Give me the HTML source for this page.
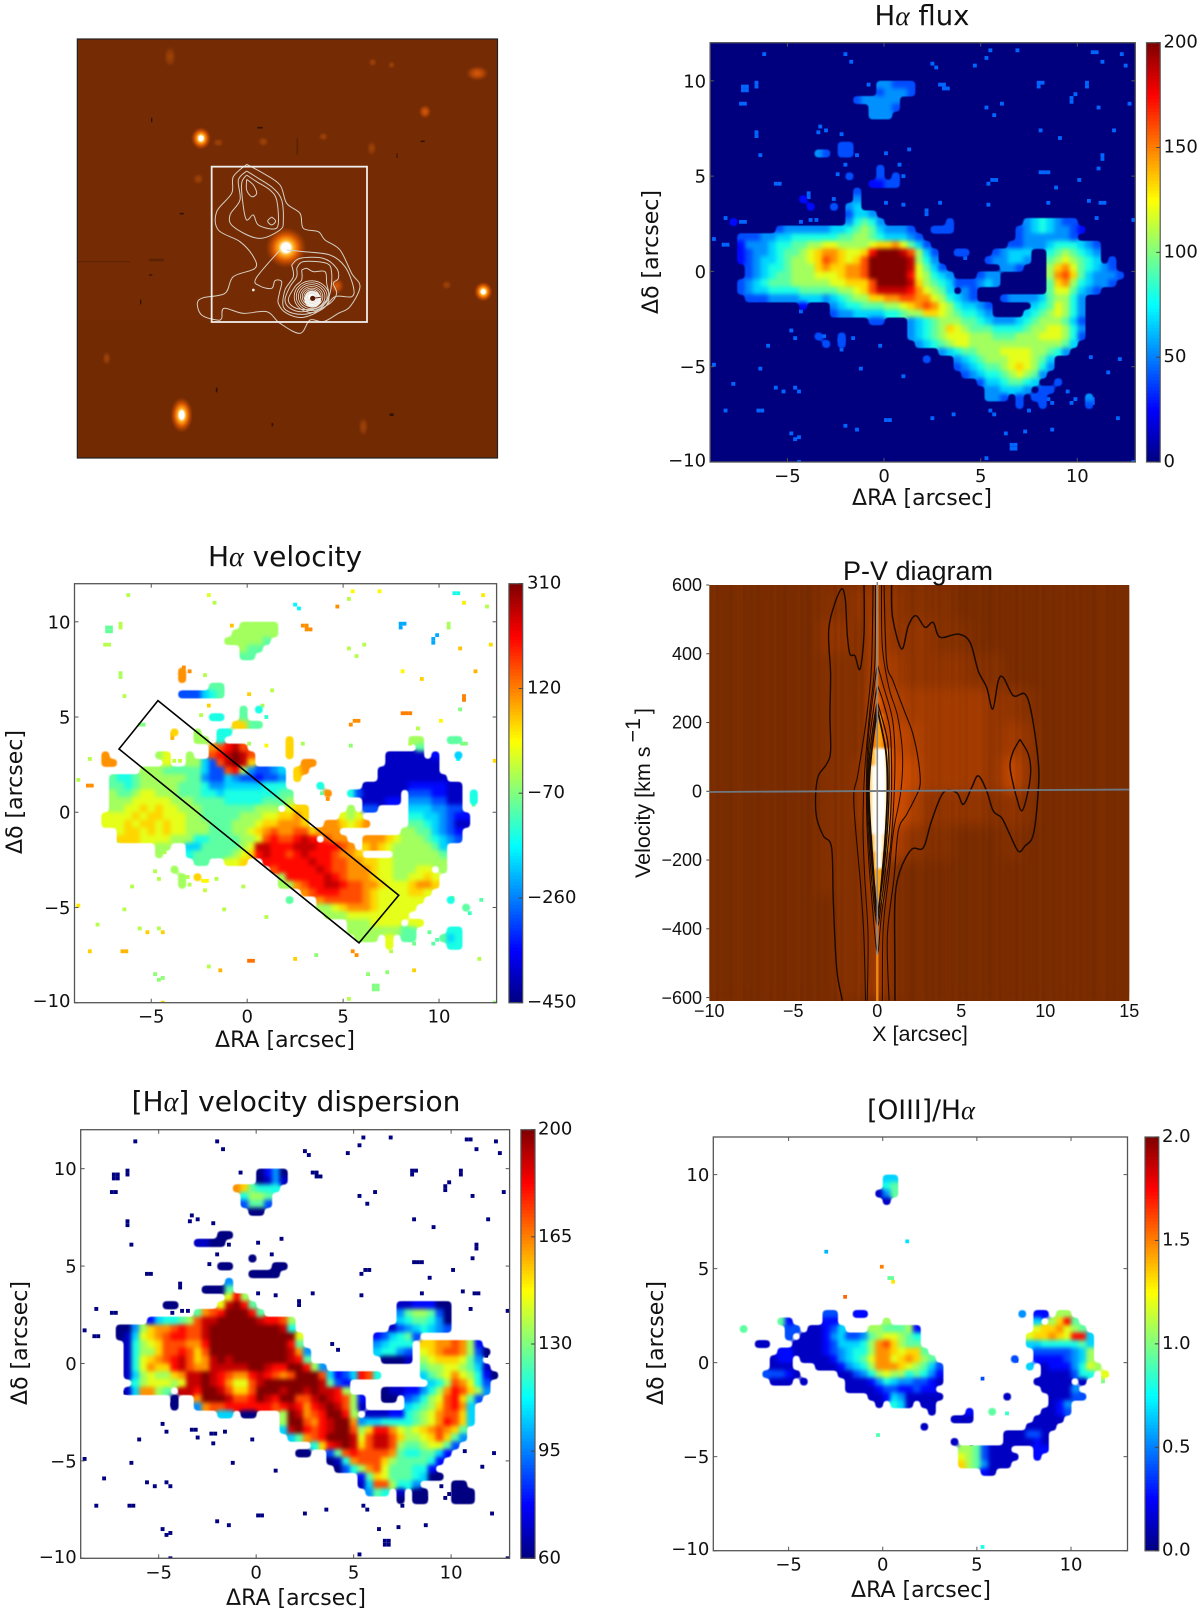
<!DOCTYPE html>
<html lang="en">
<head>
<meta charset="utf-8">
<title>Hα maps and P-V diagram</title>
<style>
html,body{margin:0;padding:0;background:#fff;}
svg{display:block;}
text{fill:#111;font-family:"DejaVu Sans","Liberation Sans",sans-serif;}
.tick{font-size:18px;}
.title{font-size:26px;}
.axis{font-size:22px;}
.pv{font-family:"Liberation Sans",sans-serif;}
.alpha{font-family:"Liberation Serif",serif;font-style:italic;}
</style>
</head>
<body>
<svg id="fig" xmlns="http://www.w3.org/2000/svg" width="1200" height="1613" viewBox="0 0 1200 1613">
<defs>
<filter id="soft" x="-5%" y="-5%" width="110%" height="110%" color-interpolation-filters="sRGB"><feGaussianBlur stdDeviation="2"/><feComponentTransfer><feFuncA type="linear" slope="3" intercept="-1"/></feComponentTransfer></filter>
<filter id="softSpeck" x="-5%" y="-5%" width="110%" height="110%" color-interpolation-filters="sRGB"><feGaussianBlur stdDeviation="0.35"/></filter>
<filter id="softPv" x="-10%" y="-10%" width="120%" height="120%" color-interpolation-filters="sRGB"><feGaussianBlur stdDeviation="6"/></filter>
<filter id="softCore" x="-20%" y="-10%" width="140%" height="120%" color-interpolation-filters="sRGB"><feGaussianBlur stdDeviation="1.3"/></filter>
<radialGradient id="glowBright"><stop offset="0" stop-color="#fff"/><stop offset="0.22" stop-color="#fff"/><stop offset="0.36" stop-color="#ffb020"/><stop offset="0.6" stop-color="#e05c00"/><stop offset="1" stop-color="#b04000" stop-opacity="0"/></radialGradient>
<radialGradient id="glowDim"><stop offset="0" stop-color="#d85a08"/><stop offset="0.5" stop-color="#b04406"/><stop offset="1" stop-color="#8a3404" stop-opacity="0"/></radialGradient>
<radialGradient id="glowFaint"><stop offset="0" stop-color="#a04408"/><stop offset="0.55" stop-color="#8c3806"/><stop offset="1" stop-color="#7a2e04" stop-opacity="0"/></radialGradient>
</defs>
<g id="panels"></g>
</svg>
<script>
// ---------- shared tick arrays ----------
const xTicks = [-5, 0, 5, 10];
const yTicks = [-10, -5, 0, 5, 10];
const pvXTicks = [-10, -5, 0, 5, 10, 15];
const pvYTicks = [-600, -400, -200, 0, 200, 400, 600];
const fluxBarTicks = ["0", "50", "100", "150", "200"];
const velocityBarTicks = ["−450", "−260", "−70", "120", "310"];
const dispersionBarTicks = ["60", "95", "130", "165", "200"];
const ratioBarTicks = ["0.0", "0.5", "1.0", "1.5", "2.0"];
const fluxRange = [0, 200];
const velocityRange = [-450, 310];
const dispersionRange = [60, 200];
const ratioRange = [0, 2];

// Heatmap rows: each row covers 0.4 arcsec, first row starts at dec = +10, columns at RA = -8 in 0.4 arcsec steps.
// "col:levels" runs, levels are hex fractions of the colour range (0 = min, f = max).
const fluxRows = [
"19:44333","19:34443","16:344444","18:4443","18:444","","","","14:33","11:43 14:33","","19:3","15:3 19:3 21:3","18:2233",
"16:3","9:2 16:4","10:2 13:3 15:45","15:3554",
"0:2 15:46764 28:3 38:4565433",
"6:344444455678754443 26:333 37:345654432",
"1:333445566666677887655543 37:34444443",
"1:244456677889988889aab9753 36:334445666543",
"1:2344567789abba99adfffec853 29:33 34:34555 41:6787654",
"1:2345567889acba9acfffffe864 33:344554 41:7898765 49:3",
"2:345667888abaabbcfffffe9753 35:443 41:8ab976543",
"2:345677888999abbcfffffd98654 32:344 41:8bca754443",
"1:34567778888899aaacffffea8765333454 41:7ab865443",
"1:3455666677777889aceeeedb9875 30:43 41:7997543",
"2:3334444555456788aabbccbb986543 35:34444578864",
"9:2 13:456677788 22:9abcb986 30:5543 39:5679864",
"13:344555566788aa9876654 38:56789864",
"18:33 23:45678887765444567888753",
"23:45678a98777666678899864",
"11:3 14:3 23:45678999888777888999863",
"12:3 14:3 24:456789988888888888875",
"27:45677888999988764",
"25:3 29:4567888999875",
"29:34567789a9864",
"30:34566789874",
"32:35567765 42:3",
"33:445554 40:33",
"33:443 37:3 39:33 46:4",
"37:3 40:3 46:3"
];
const velocityRows = [
"19:88888","18:888888","17:888887","19:877","19:77","","11:b","11:b","15:77","11:33356 16:7","","19:7 21:6","15:66 19:7","18:aa77",
"10:a 13:8 16:66",
"13:88 16:6 25:a 41:88 46:77",
"15:bcdec 25:a 42:7",
"1:b 8:89 12:8 15:cdefec 25:a 38:11111 44:2 47:5",
"1:bb 9:9 12:88 14:5 15:3cefea 27:bb 38:1111111",
"6:88877777533cd843345 26:ab 37:11111111",
"2:76678888887743354332334 26:a 37:111111111",
"2:77678888877764455555666 29:6 35:111111 41:2222211",
"2:877899888777665666666677 30:b 33:63 35:11111 41:3332211 49:6",
"2:888999998887777666667778 35:11122 41:4443311 49:6",
"2:8899a9a998887777777888 25:9aa 33:8 35:33 41:5554433",
"1:9999a9aa999887777788899aaba 32:989 41:66554322",
"1:999a9aa9a99888777888 21:9aabbba 30:bba9ab 41:77654311",
"3:9aa9a9a99888777889abcbbccabbb 40:88775432",
"3:aaa9999888667777889cdccded 30:cbb 35:bbba988876543",
"8:88 12:557777789eedddeeedddcb 35:aba98888875",
"8:8 12:67777789adeddcdedddcbba 39:8888887",
"13:77 17:99 19:a 22:ddddddeddccbbaa998888888",
"10:8 23:cdddddedccbbba9988899 45:8",
"11:8 13:a 24:8dddddedcbbba998899a9",
"11:8 24:88bcddeedccbba999abba",
"27:bcdddcccba9999aa9",
"25:7 29:bcccccba999999 46:6",
"29:889abbba99999 48:7",
"30:88899999999",
"33:8889999 41:99",
"33:8888888 40:77 46:66",
"34:888 38:9 40:77 45:7 46:56",
"38:9 46:66"
];
const dispersionRows = [
"20:0 21:2 22:4 23:0","20:01 22:41","17:ba7666","18:6887","18:3773","19:00","","","15:00","12:11 14:00","","19:0","15:00 22:00","19:0000",
"16:4",
"13:00 15:0 16:7",
"16:9d8",
"8:00 15:9efd7 38:11222 43:00",
"12:7bcdfffd7 38:4788730",
"6:256678ceefffffeddc8 38:5677640",
"2:0048abbcdccefffffffffe6 37:13456543",
"2:0159abcddccefffffffffff9 35:235673",
"3:1689acccbbdffffffffffd7 35:45666 41:aabbcb82",
"3:1688accdcacffffffffffeb4 35:56643 41:9abccb83 49:0",
"3:169abcdecabefefffffffed7 36:0001 41:89aaa974",
"3:169baadecbbeeeeeffeddffd84 41:788998751",
"3:158988abeefedcbbdedcbcfffc5 30:23 32:5dc6 41:5789b98620",
"4:6899989eefedb99cefffffffe7 30:32 42:568cb963",
"3:15bb87 10:ee 12:dffecaacfffeffefeed8 36:01122468bdca84",
"9:0 12:bfffeccdfedffccefedc8 33:2 36:00 39:34689cda73",
"9:0 12:4bccddddddcdedbdefec8 33:1 39:5678acdb5",
"15:55 18:00 23:8febcdffd8 34:11122 39:6789bcca5",
"23:8ffcbdeffb4556666789bdca5",
"23:5efdcdeffc8addb989abcba7",
"24:57bcdfffe9ceeca889aca74",
"27:6adefeaceec87789973",
"25:00 29:37cdccccb7667752",
"29:016bccca8777762",
"30:0368bc9777662",
"33:27a977765 42:00",
"33:15cc8664 45:00",
"34:476 38:1 40:00 45:000",
"38:0 40:00 45:000"
];
const ratioRows = [
"20:55","20:67","19:1 20:4 21:7","20:1","","","","","","","","","","",
"","","","",
"12:33 16:22 38:4 40:22 43:88",
"6:72 12:22 20:8 40:5 42:8 43:ad 45:7",
"1:7 7:33 10:11235 18:887778 24:2 40:9aab987",
"7:3 9:1112453347899876 39:9aaba9dd5",
"3:11 8:11112355568bca877 39:556666675",
"6:2211112345668bba9aa7 40:33333458",
"5:122 9:1111245679bb9aba87 37:3 40:22223458",
"5:111 11:11124568bbba98753 39:5 41:12224698",
"4:33321 14:11346898867642 41:1111366 49:9",
"5:111 9:1 15:1112465443321 40:11111 46:1",
"15:111123322322 41:1111 45:4",
"18:11 20:2 21:54 23:11111 36:1 42:111 45:33",
"19:1 21:651 25:11 42:124",
"26:1 31:2 34:7 41:1123",
"29:11 31:1 40:1111",
"25:1 39:1111",
"36:111 39:331",
"29:1 36:111121",
"30:8873111 40:22",
"30:98731111 40:2",
"30:a874111",
"33:21"
];
// Isolated pixels: [RA arcsec, dec arcsec, velocity km/s]
const specks = [
[-6.3,11.5,-30],[-2.1,11.5,0],[-1.8,11.1,-30],[2.4,11,-170],[2.6,10.8,-170],[4.6,10.9,110],[5.4,11.7,30],[5.2,11.3,-30],[6.8,11.7,30],
[10.7,11.6,-150],[10.9,11.6,-150],[12.2,11.5,40],[11.2,11.1,40],[12.4,10.9,-30],[-7.4,9.8,-90],[-7.2,9.8,-90],[-7.4,9.6,-90],[-7.2,9.6,-90],[-6.7,10,-30],[-6.7,9.8,-30],[-0.9,9.9,70],
[7.9,10,-230],[8.1,10,-230],[7.9,9.8,-230],[10.4,10,-40],[10.4,9.8,-40],[3,9.7,110],[3.2,9.7,110],[2.8,9.9,110],[3,9.9,110],[9.6,9.2,-230],[9.8,9.4,-230],[9.6,9,-230],[-7.5,8.9,-30],[-7.3,8.9,-30],[12.6,8.9,50],
[5.2,8.7,-30],[6,8.9,-30],[5.6,8.3,-30],[11,8.7,70],[-6.7,7.4,-40],[-6.7,7.2,-40],[-3.5,7.4,110],[-3.4,7.7,110],[-3.1,7.5,110],[-2.3,7.3,-30],[8,7.5,30],[9,7.1,60],
[11.8,7.5,80],[1.2,6.5,-30],[-6.5,6.2,-30],[0,6.3,60],[-1.5,6.2,-30],[11.2,6.2,120],[11.2,6,120],[-2.1,5.7,60],[0.7,5.7,-40],[11,5.5,-70],[-2.5,5.2,-30],[0.9,5.1,-130],
[8,5.3,120],[8.2,5.3,120],[8.4,5.3,120],[5.5,4.9,110],[5.7,4.9,110],[5.3,4.7,110],[10,4.9,30],[-5.7,4.7,-70],[-5.5,4.7,-70],[8.8,4.5,-30],[5.3,3.6,-60],[0,3.7,-40],[0.9,3.6,30],[2.8,3.7,-40],[2.1,3.3,100],[2.1,3.1,100],
[-4,4.2,80],[-4,4,80],[-2.7,3.9,-30],[8.4,3.7,-30],[10.5,3.8,-70],[11.1,3.7,-70],[11.3,3.7,-70],[10.9,2.9,-170],[12.8,2.8,50],[-8.3,2.9,-30],[-7.5,2.7,110],[-7.3,2.7,110],
[-4.4,2.7,-20],[-3.9,2.8,-20],[-3.6,2.8,-20],[-8.9,1.8,-30],[-8.4,1.5,110],[-8.2,1.5,110],[3.8,1.1,-90],[4.1,0.8,110],[11.7,0.5,-90],[-4.4,-2,-30],[-4.9,-3,-30],[-3.4,-3.3,-30],[-3.2,-3.3,-30],
[-3.1,-3.7,-30],[-2.4,-3.5,30],[-2.2,-3.5,30],[-1.7,-3.4,-30],[-6.1,-3.8,-30],[-4.7,-3.4,-30],[-2.3,-4,-20],[-0.3,-3.8,-30],[-8.9,-4.8,40],[-6.5,-5,-30],[-1.3,-5,-30],[0.9,-5.4,-30],
[-7.9,-5.8,-30],[-5.7,-6,-30],[-5.3,-6.2,60],[-4.7,-6,-30],[-4.5,-6.2,60],[-8.3,-7.2,60],[-6.6,-7.2,80],[-6.4,-7.2,80],[0,-7.7,130],[0.2,-7.7,130],[2.4,-7.6,60],[3.5,-7.4,-60],
[5.4,-7.2,110],[5.6,-7.4,110],[7.4,-7.2,-30],[12,-7.6,-30],[-2.1,-8,-30],[-1.5,-8.2,80],[7.2,-8.3,-60],[8.6,-8.2,60],[-4.9,-8.4,-60],[-4.7,-8.7,-60],[-4.5,-8.6,-60],
[6.2,-8.4,-60],[6.5,-9,-70],[6.7,-9,-70],[6.5,-9.2,-70],[6.7,-9.2,-70],[5.2,-9.7,-30],[-4.5,-9.9,60],[12.8,-9.9,-60],[12.1,-4.5,-100],[11.5,-5.2,-120],[10.6,-4.4,-60],[9.4,-6.2,-90],
[9.8,-6.6,-100],[9.6,-6.8,-100],[10.5,-6.6,-160],[10.7,-6.6,-160],[10.5,-6.8,-160],[10.7,-6.8,-160],[-6.8,-1.4,-40],[8.4,-6.6,-80],[8.6,-6.8,-80]
];
const fluxSpeckValue = 45;
const dispersionSpeckValue = 60;
// [RA, dec, ratio]
const ratioSpecks = [
[-7.45,1.84,0.95],[-3.1,6,0.6],[1.2,6.55,0.7],[-0.15,5.2,1.5],[0.25,4.6,0.95],[0.4,4.6,0.95],[0.45,4.4,1.3],[-2.1,3.6,1.55],
[-0.35,-3.75,0.9],[5.2,-9.7,0.8],[7,0.2,0.4],[5.2,-0.75,0.4],[4.6,-4.4,0.2],[6.5,-2.6,0.85],[11.6,-0.7,1.1],[11.8,-0.55,1.2],[11.6,-0.9,1.0]
];
// Slit corners drawn on the velocity map [RA, dec]
const slitCorners = [[-4.65,5.86],[7.9,-4.36],[5.83,-6.86],[-6.68,3.32]];

// ---------- P-V diagram data ----------
const pvRows = [
"22222223345433322222222222",
"22222224436444332222222222",
"22222223336544443322222222",
"22222223337655555443222222",
"22222223338765555454222222",
"22222223348875555474222222",
"22222223348864444343222222",
"22222223337643322232222222",
"22222223336322222222222222",
"22222222335322222222222222",
"22222222335322222222222222",
"22222222335322222222222222"
];
const pvCoreRows = [
".....8.....",".....9.....","....8a8....","....8cc8...","...8acca...","...cdfffd9.","...effffe..","...effffe..","...effffe..","...effffd..",
"...9effeb..","....cffc...","....ccc....",".....cc....",".....a.....",".....9....."
];
const pvCoreVelocities = [350,300,250,200,150,100,50,0,-50,-100,-150,-200,-250,-300,-350,-400];
const pvStripes = "7968775899676857886967587796857968778596877695786879687968775899676857886967587796857968778596877695786879687968775899676";
const pvContourOuterLeft = [[-2.08,-609],[-2.42,-514],[-2.62,-319],[-2.72,-164],[-3.21,-130],[-3.61,-77],[-3.67,-9],[-3.51,45],[-3.02,79],[-2.78,117],[-2.82,224],[-2.78,341],[-2.88,477],[-2.22,583],[-1.92,564],[-1.79,457],[-1.63,399],[-1.33,394],[-1.03,355],[-0.79,457],[-0.79,603]];
const pvContourOuterRight = [[0.85,603],[0.91,506],[1.45,414],[1.85,482],[2.3,511],[2.84,477],[3.33,491],[3.73,448],[4.82,457],[5.52,433],[6.01,350],[6.51,302],[6.87,239],[7.2,321],[7.5,331],[8.1,278],[8.79,283],[9.19,224],[9.58,88],[9.58,1],[9.29,-125],[8.79,-159],[8.39,-174],[7.8,-116],[7.4,-77],[6.9,-57],[6.51,1],[6.01,45],[5.62,11],[5.12,-38],[4.72,-4],[3.93,-4],[3.23,-86],[2.74,-164],[2.04,-169],[1.35,-232],[1.05,-319],[1.05,-514],[1.05,-609]];
const pvContourKnot = [[8.49,151],[8.99,108],[9.13,54],[8.89,-18],[8.59,-57],[8.29,-18],[8,40],[7.9,79],[8.1,117],[8.49,151]];
const pvContourMidRight = [[0.4,600],[0.55,380],[0.95,320],[1.6,235],[2.1,170],[2.45,88],[2.55,20],[2.25,-20],[1.75,-67],[1.25,-115],[1,-250],[0.6,-420],[0.7,-609]];
const pvContourMidLeft = [[-0.7,-609],[-0.8,-420],[-1,-270],[-1.4,-30],[-1.15,50],[-0.65,210],[-0.35,360],[-0.25,600]];
const pvContourInnerRight = [[0.25,600],[0.3,420],[0.7,300],[1.2,220],[1.5,110],[1.4,0],[0.95,-120],[0.7,-240],[0.35,-400],[0.3,-609]];
const pvContourInnerLeft = [[-0.6,-609],[-0.55,-420],[-0.75,-250],[-0.85,-100],[-0.75,60],[-0.45,230],[-0.15,370],[-0.1,600]];
const pvContourCore1 = [[0,370],[0.4,300],[0.9,210],[1.05,100],[0.95,-60],[0.7,-200],[0.25,-360],[0,-470],[-0.3,-330],[-0.55,-170],[-0.65,0],[-0.55,150],[-0.25,280],[0,370]];
const pvContourCore2 = [[0,310],[0.35,260],[0.75,180],[0.85,80],[0.8,-60],[0.55,-200],[0.2,-340],[0,-390],[-0.25,-300],[-0.5,-150],[-0.6,0],[-0.5,130],[-0.22,240],[0,310]];
const pvContourCore3 = [[0,260],[0.6,150],[0.7,50],[0.65,-70],[0.45,-200],[0.15,-320],[0,-370],[-0.2,-280],[-0.42,-150],[-0.55,0],[-0.45,110],[-0.18,210],[0,260]];
const pvContourCore4 = [[0,240],[0.5,120],[0.6,30],[0.55,-70],[0.35,-210],[0,-350],[-0.35,-150],[-0.5,0],[-0.35,110],[0,240]];

// ---------- Image panel data (image coordinates) ----------
const imgSources = [
[648,653,62,62,"glowBright"],[393,325,30,34,"glowBright"],[445,338,18,14,"glowFaint"],[1222,130,36,24,"glowDim"],[1065,245,20,22,"glowDim"],[905,355,16,24,"glowFaint"],
[385,447,18,18,"glowFaint"],[300,80,20,34,"glowFaint"],[1240,785,28,30,"glowBright"],[1130,765,16,16,"glowFaint"],[800,768,24,26,"glowDim"],[335,1155,34,54,"glowBright"],
[880,1190,16,30,"glowFaint"],[908,97,14,14,"glowFaint"],[965,105,12,12,"glowFaint"],[580,335,18,16,"glowFaint"],[760,320,16,14,"glowFaint"],[110,985,14,22,"glowFaint"]
];
const imgDarkMarks = [[245,270,4,14],[570,293,16,5],[682,350,5,50],[981,377,3,14],[1058,334,12,5],[335,551,12,5],[242,735,10,4],[212,816,4,14],[440,1080,5,14],[607,1184,5,10],[965,1154,12,8],[260,690,45,8],[30,695,300,3]];
const imgContours = [
[[530,403],[490,440],[485,490],[440,545],[445,600],[510,635],[550,680],[555,715],[490,740],[465,790],[400,803],[382,820],[395,855],[440,870],[455,865],[462,835],[520,850],[590,845],[630,880],[690,910],[720,870],[760,875],[805,850],[840,830],[870,770],[845,730],[810,660],[765,630],[745,605],[700,595],[690,550],[650,520],[630,465],[580,430],[530,403]],
[[530,423],[505,450],[510,510],[480,555],[490,590],[565,625],[630,600],[640,570],[635,510],[610,475],[565,445],[530,423]],
[[530,435],[515,460],[520,530],[530,570],[550,555],[565,585],[610,597],[625,580],[620,510],[600,480],[560,455],[530,435]],
[[530,448],[550,465],[560,490],[545,500],[530,480],[530,448]],
[[605,561],[617,573],[605,585],[593,573],[605,561]],
[[630,660],[558,745],[570,768],[605,775],[615,752],[635,755],[628,790],[625,820],[650,850],[700,862],[760,835],[795,800],[845,800],[850,770],[825,710],[780,675],[700,665],[650,660]],
[[665,705],[690,685],[760,685],[800,715],[805,745],[790,760],[800,790],[780,820],[720,850],[670,850],[640,830],[645,780],[670,740],[665,705]],
[[680,715],[700,695],[770,700],[785,730],[780,790],[760,825],[700,845],[660,835],[645,810],[660,770],[680,740],[680,715]],
[[695,720],[710,715],[730,725],[765,725],[770,760],[775,800],[740,835],[680,835],[655,810],[675,770],[695,750],[695,720]]
];
const imgRingRadii = [50,44,38,32,27,22,18,14,11];

// ---------- helpers ----------
const NS = "http://www.w3.org/2000/svg";
const root = document.getElementById("panels");
function mk(tag, attrs, parent) {
  const el = document.createElementNS(NS, tag);
  for (const k in attrs) el.setAttribute(k, attrs[k]);
  (parent || root).appendChild(el);
  return el;
}
function jet(t) {
  t = Math.max(0, Math.min(1, t));
  const c = v => Math.round(255 * Math.max(0, Math.min(1, v)));
  return "rgb(" + c(1.5 - Math.abs(4 * t - 3)) + "," + c(1.5 - Math.abs(4 * t - 2)) + "," + c(1.5 - Math.abs(4 * t - 1)) + ")";
}
// Catmull-Rom smoothing through screen-space points
function smoothPath(pts) {
  let d = "M" + pts[0][0] + "," + pts[0][1];
  for (let i = 0; i < pts.length - 1; i++) {
    const p0 = pts[Math.max(0, i - 1)], p1 = pts[i], p2 = pts[i + 1], p3 = pts[Math.min(pts.length - 1, i + 2)];
    const c1x = p1[0] + (p2[0] - p0[0]) / 6, c1y = p1[1] + (p2[1] - p0[1]) / 6;
    const c2x = p2[0] - (p3[0] - p1[0]) / 6, c2y = p2[1] - (p3[1] - p1[1]) / 6;
    d += " C" + c1x + "," + c1y + " " + c2x + "," + c2y + " " + p2[0] + "," + p2[1];
  }
  return d;
}
function makeAxis(l, r, t, b, xmin, xmax, ymin, ymax) {
  return {
    l, r, t, b,
    x: v => l + (v - xmin) / (xmax - xmin) * (r - l),
    y: v => b - (v - ymin) / (ymax - ymin) * (b - t)
  };
}
let clipCount = 0;
function clipFor(ax) {
  clipCount++;
  const id = "clip" + clipCount;
  const cp = mk("clipPath", { id: id });
  mk("rect", { x: ax.l, y: ax.t, width: ax.r - ax.l, height: ax.b - ax.t }, cp);
  return id;
}
function addText(parent, x, y, str, cls, anchor) {
  const t = mk("text", { x: x, y: y, class: cls, "text-anchor": anchor || "middle" }, parent);
  t.textContent = str;
  return t;
}
function addTitle(parent, cx, y, before, after, size) {
  const t = mk("text", { x: cx, y: y, class: "title", "text-anchor": "middle", style: "font-size:" + size + "px" }, parent);
  
  
  const a = mk("tspan", {}, t); a.textContent = before;
  const b = mk("tspan", { class: "alpha" }, t); b.textContent = "α";
  const c = mk("tspan", {}, t); c.textContent = after;
}
function drawHeat(group, rows, range, ax) {
  rows.forEach((row, k) => {
    if (!row) return;
    row.split(" ").forEach(run => {
      const parts = run.split(":");
      const start = parseInt(parts[0], 10);
      [...parts[1]].forEach((ch, i) => {
        const value = range[0] + parseInt(ch, 16) / 15 * (range[1] - range[0]);
        const xa = -8 + 0.4 * (start + i), yTop = 10 - 0.4 * k;
        const el = mk("rect", {
          x: ax.x(xa), y: ax.y(yTop),
          width: ax.x(xa + 0.4) - ax.x(xa) + 0.4,
          height: ax.y(yTop - 0.4) - ax.y(yTop) + 0.4,
          fill: jet((value - range[0]) / (range[1] - range[0]))
        }, group);
        
        
      });
    });
  });
}
function drawSpecks(group, list, valueOf, range, ax) {
  list.forEach(s => {
    const value = valueOf(s);
    const el = mk("rect", {
      x: ax.x(s[0]), y: ax.y(s[1]),
      width: ax.x(s[0] + 0.2) - ax.x(s[0]),
      height: ax.y(s[1] - 0.2) - ax.y(s[1]),
      fill: jet((value - range[0]) / (range[1] - range[0]))
    }, group);
    
    
  });
}
function drawFrameAndTicks(g, ax) {
  const frame = mk("rect", { x: ax.l, y: ax.t, width: ax.r - ax.l, height: ax.b - ax.t, fill: "none", stroke: "#555", "stroke-width": 1.3 }, g);
  
  
  xTicks.forEach(v => {
    const x = ax.x(v);
    mk("line", { x1: x, x2: x, y1: ax.b, y2: ax.b - 4, stroke: "#555", "stroke-width": 1 }, g);
    mk("line", { x1: x, x2: x, y1: ax.t, y2: ax.t + 4, stroke: "#555", "stroke-width": 1 }, g);
    const t = addText(g, x, ax.b + 20, String(v).replace("-", "−"), "tick");
    
    
  });
  yTicks.forEach(v => {
    const y = ax.y(v);
    mk("line", { x1: ax.l, x2: ax.l + 4, y1: y, y2: y, stroke: "#555", "stroke-width": 1 }, g);
    mk("line", { x1: ax.r, x2: ax.r - 4, y1: y, y2: y, stroke: "#555", "stroke-width": 1 }, g);
    const t = addText(g, ax.l - 4, y + (v === -10 ? 4.5 : 6.5), String(v).replace("-", "−"), "tick", "end");
    
    
  });
}
function drawColorbar(g, x0, x1, top, bottom, labels, labelX) {
  const n = 128;
  for (let i = 0; i < n; i++) {
    const yy = bottom - (i + 1) / n * (bottom - top);
    mk("rect", { x: x0, y: yy, width: x1 - x0, height: (bottom - top) / n + 0.5, fill: jet((i + 0.5) / n) }, g);
  }
  const outline = mk("rect", { x: x0, y: top, width: x1 - x0, height: bottom - top, fill: "none", stroke: "#555", "stroke-width": 1.2 }, g);
  
  
  labels.forEach((lab, i) => {
    const y = bottom - i / (labels.length - 1) * (bottom - top);
    mk("line", { x1: x1, x2: x1 - 4, y1: y, y2: y, stroke: "#444", "stroke-width": 1 }, g);
    const t = addText(g, labelX, y + 5, lab, "tick", "start");
    
    
  });
}
function axisLabels(g, cx, xBase, yx, yc) {
  const xl = addText(g, cx, xBase, "ΔRA [arcsec]", "axis");
  
  
  const yl = mk("text", { class: "axis", "text-anchor": "middle", transform: "translate(" + yx + "," + yc + ") rotate(-90)" }, g);
  yl.textContent = "Δδ [arcsec]";
  
  
}
function panelGroup(name) {
  const g = mk("g", {});
  
  
  return g;
}
function mapPanel(name, ax, rows, range, speckList, speckValue, bg) {
  const g = panelGroup(name);
  const cp = clipFor(ax);
  const body = mk("g", { "clip-path": "url(#" + cp + ")" }, g);
  if (bg) mk("rect", { x: ax.l, y: ax.t, width: ax.r - ax.l, height: ax.b - ax.t, fill: bg }, body);
  const sp = mk("g", { filter: "url(#softSpeck)" }, body);
  drawSpecks(sp, speckList, speckValue, range, ax);
  const cells = mk("g", { filter: "url(#soft)" }, body);
  drawHeat(cells, rows, range, ax);
  return { g, body };
}

// ---------- Hα flux ----------
const fluxAx = makeAxis(710.1, 1135.3, 42.7, 462, -9, 13, -10, 12);
const fluxPanel = mapPanel("flux-panel", fluxAx, fluxRows, fluxRange, specks, () => fluxSpeckValue, "#00007f");
drawFrameAndTicks(fluxPanel.g, fluxAx);
drawColorbar(fluxPanel.g, 1146.5, 1160.2, 42.7, 462, fluxBarTicks, 1163.5);
addTitle(fluxPanel.g, 922, 25, "H", " flux", 27.5);
axisLabels(fluxPanel.g, 922, 505, 658, 252);

// ---------- Hα velocity ----------
const velAx = makeAxis(74.5, 496.6, 583.7, 1002.7, -9, 13, -10, 12);
const velPanel = mapPanel("velocity-panel", velAx, velocityRows, velocityRange, specks, s => s[2]);
const slit = mk("polygon", { points: slitCorners.map(c => velAx.x(c[0]) + "," + velAx.y(c[1])).join(" "), fill: "none", stroke: "#000", "stroke-width": 1.6 }, velPanel.g);


drawFrameAndTicks(velPanel.g, velAx);
drawColorbar(velPanel.g, 508.9, 522.7, 583.7, 1002.7, velocityBarTicks, 527);
addTitle(velPanel.g, 285, 566, "H", " velocity", 28);
axisLabels(velPanel.g, 285, 1047, 22, 792);

// ---------- velocity dispersion ----------
const dispAx = makeAxis(80.7, 509.6, 1129.7, 1558.3, -9, 13, -10, 12);
const dispPanel = mapPanel("dispersion-panel", dispAx, dispersionRows, dispersionRange, specks, () => dispersionSpeckValue);
drawFrameAndTicks(dispPanel.g, dispAx);
drawColorbar(dispPanel.g, 520.9, 535, 1129.7, 1558.3, dispersionBarTicks, 538);
addTitle(dispPanel.g, 296, 1111, "[H", "] velocity dispersion", 28);
axisLabels(dispPanel.g, 296, 1605, 27, 1343);

// ---------- [OIII]/Hα ----------
const ratioAx = makeAxis(713.3, 1127.5, 1137, 1550.7, -9, 13, -10, 12);
const ratioPanel = mapPanel("ratio-panel", ratioAx, ratioRows, ratioRange, ratioSpecks, s => s[2]);
drawFrameAndTicks(ratioPanel.g, ratioAx);
drawColorbar(ratioPanel.g, 1145, 1158.8, 1137, 1550.7, ratioBarTicks, 1162);
addTitle(ratioPanel.g, 921, 1119, "[OIII]/H", "", 26.5);
axisLabels(ratioPanel.g, 921, 1597, 663, 1343);

// ---------- P-V diagram ----------
function pvColor(level) {
  const stops = [[0,[99,34,0]],[2,[121,44,0]],[4,[145,52,0]],[6,[180,66,0]],[8,[216,82,0]],[10,[240,112,0]],[12,[255,165,16]],[14,[255,224,144]],[15,[255,255,255]]];
  for (let i = 1; i < stops.length; i++) {
    if (level <= stops[i][0]) {
      const a = stops[i - 1], b = stops[i], f = (level - a[0]) / (b[0] - a[0]);
      return "rgb(" + a[1].map((c, n) => Math.round(c + f * (b[1][n] - c))).join(",") + ")";
    }
  }
  return "#fff";
}
const pvAx = makeAxis(709.3, 1129.3, 585, 1001, -10, 15, -610, 600);
(function () {
  const g = panelGroup("pv-panel");
  const cp = clipFor(pvAx);
  const body = mk("g", { "clip-path": "url(#" + cp + ")" }, g);
  mk("rect", { x: pvAx.l, y: pvAx.t, width: pvAx.r - pvAx.l, height: pvAx.b - pvAx.t, fill: pvColor(2) }, body);
  const coarse = mk("g", { filter: "url(#softPv)" }, body);
  pvRows.forEach((row, r) => {
    [...row].forEach((ch, i) => {
      const vTop = 600 - r * 100, xa = -10.5 + i;
      const cell = mk("rect", {
        x: pvAx.x(xa), y: pvAx.y(vTop), width: pvAx.x(xa + 1) - pvAx.x(xa) + 0.5,
        height: pvAx.y(vTop - 101) - pvAx.y(vTop) + 0.5, fill: pvColor(parseInt(ch, 16))
      }, coarse);
      
      
    });
  });
  const stripes = mk("g", {}, body);
  [...pvStripes].forEach((ch, i) => {
    const d = parseInt(ch, 16) - 7;
    mk("rect", { x: pvAx.x(-10 + i * 0.2), y: pvAx.t, width: pvAx.x(0.2) - pvAx.x(0), height: pvAx.b - pvAx.t, fill: d < 0 ? "#000" : "#ff8a20", opacity: Math.abs(d) * 0.016 }, stripes);
  });
  const strip = mk("rect", { x: pvAx.x(-0.07), y: pvAx.t, width: pvAx.x(0.14) - pvAx.x(0), height: pvAx.b - pvAx.t, fill: "#f08a10" }, body);
  
  
  const core = mk("g", { filter: "url(#softCore)" }, body);
  pvCoreRows.forEach((row, r) => {
    [...row].forEach((ch, i) => {
      if (ch === ".") return;
      const xc = -1 + 0.2 * i, vc = pvCoreVelocities[r];
      const cell = mk("rect", {
        x: pvAx.x(xc - 0.1), y: pvAx.y(vc + 25), width: pvAx.x(0.2) - pvAx.x(0) + 0.3,
        height: pvAx.y(vc - 25) - pvAx.y(vc + 25) + 0.3, fill: pvColor(parseInt(ch, 16))
      }, core);
      
      
    });
  });
  const contourSets = [
    [pvContourOuterLeft, 1.4],[pvContourOuterRight, 1.5],[pvContourKnot, 1.4],[pvContourMidRight, 1.1],[pvContourMidLeft, 1.1],
    [pvContourInnerRight, 1],[pvContourInnerLeft, 1],[pvContourCore1, 1],[pvContourCore2, 1.1],[pvContourCore3, 1.3],[pvContourCore4, 1.8]
  ];
  contourSets.forEach(set => {
    const line = mk("path", { d: smoothPath(set[0].map(p => [pvAx.x(p[0]), pvAx.y(p[1])])), fill: "none", stroke: "#1a0a00", "stroke-width": set[1], "stroke-linejoin": "round" }, body);
    
    
  });
  const hLine = mk("line", { x1: pvAx.x(-10), x2: pvAx.x(15), y1: pvAx.y(-2), y2: pvAx.y(5), stroke: "#6f7880", "stroke-width": 1.8 }, body);
  
  
  const vLine = mk("line", { x1: pvAx.x(0), x2: pvAx.x(0), y1: 582, y2: pvAx.y(-475), stroke: "#8a8a88", "stroke-width": 1.6 }, g);
  
  
  pvXTicks.forEach(v => {
    const t = addText(g, pvAx.x(v), 1017, String(v).replace("-", "−"), "tick pv");
    
    
  });
  pvYTicks.forEach(v => {
    const y = pvAx.y(v);
    mk("line", { x1: pvAx.l - 3, x2: pvAx.l, y1: y, y2: y, stroke: "#444", "stroke-width": 1 }, g);
    const t = addText(g, 702, y + 6.2, String(v).replace("-", "−"), "tick pv", "end");
    
    
  });
  const title = addText(g, 918, 580, "P-V diagram", "pv");
  title.setAttribute("font-size", "27");
  
  
  const xt = addText(g, 920, 1041, "X [arcsec]", "pv");
  xt.setAttribute("font-size", "21.5");
  
  
  const yt = mk("text", { class: "pv", "font-size": "21.5", "text-anchor": "middle", transform: "translate(650,793) rotate(-90)" }, g);
  
  
  const a = mk("tspan", {}, yt); a.textContent = "Velocity [km s";
  const b = mk("tspan", { dy: "-10", dx: "4" }, yt); b.textContent = "−1";
  const c = mk("tspan", { dy: "10", dx: "4" }, yt); c.textContent = "]";
})();

// ---------- Sky image with contours ----------
const imgX = z => 70 + z / 3;
const imgY = z => 30 + z / 3;
(function () {
  const g = panelGroup("sky-image-panel");
  const frameBox = { l: imgX(22), r: 497.5, t: imgY(27), b: 458 };
  const cp = clipFor(frameBox);
  const body = mk("g", { "clip-path": "url(#" + cp + ")" }, g);
  mk("rect", { x: frameBox.l, y: frameBox.t, width: frameBox.r - frameBox.l, height: frameBox.b - frameBox.t, fill: "#752b04" }, body);
  mk("rect", { x: frameBox.l, y: imgY(870), width: frameBox.r - frameBox.l, height: frameBox.b - imgY(870), fill: "#6e2803", opacity: 0.3 }, body);
  imgSources.forEach(s => {
    const el = mk("ellipse", { cx: imgX(s[0]), cy: imgY(s[1]), rx: s[2] / 3, ry: s[3] / 3, fill: "url(#" + s[4] + ")" }, body);
    
    
  });
  imgDarkMarks.forEach(m => {
    const el = mk("rect", { x: imgX(m[0] - m[2] / 2), y: imgY(m[1] - m[3] / 2), width: m[2] / 3, height: m[3] / 3, fill: "#2a1004", opacity: m[2] > 40 || m[3] > 40 ? 0.35 : 0.9 }, body);
    
    
  });
  mk("circle", { cx: imgX(728), cy: imgY(808), r: 16 / 3 + 3, fill: "#fff" }, body);
  imgRingRadii.forEach(r => {
    mk("ellipse", { cx: imgX(725), cy: imgY(800), rx: r / 3 * 1.05, ry: r / 3 * 0.95, fill: "none", stroke: "#e6e2d8", "stroke-width": 0.8 }, body);
  });
  mk("circle", { cx: imgX(728), cy: imgY(805), r: 2.6, fill: "#5a1800" }, body);
  mk("line", { x1: imgX(728), x2: imgX(752), y1: imgY(805), y2: imgY(802), stroke: "#5a1800", "stroke-width": 0.8 }, body);
  mk("circle", { cx: imgX(550), cy: imgY(780), r: 1.4, fill: "#f2efe8" }, body);
  imgContours.forEach(c => {
    const line = mk("path", { d: smoothPath(c.map(p => [imgX(p[0]), imgY(p[1])])), fill: "none", stroke: "#d6d0c4", "stroke-width": 1, "stroke-linejoin": "round" }, body);
    
    
  });
  const box = mk("rect", { x: imgX(425), y: imgY(410), width: (891 - 425) / 3, height: (876 - 410) / 3, fill: "none", stroke: "#f0eeea", "stroke-width": 1.8 }, g);
  
  
  const fr = mk("rect", { x: frameBox.l, y: frameBox.t, width: frameBox.r - frameBox.l, height: frameBox.b - frameBox.t, fill: "none", stroke: "#222", "stroke-width": 1.2 }, g);
  
  
})();
</script>
</body>
</html>
